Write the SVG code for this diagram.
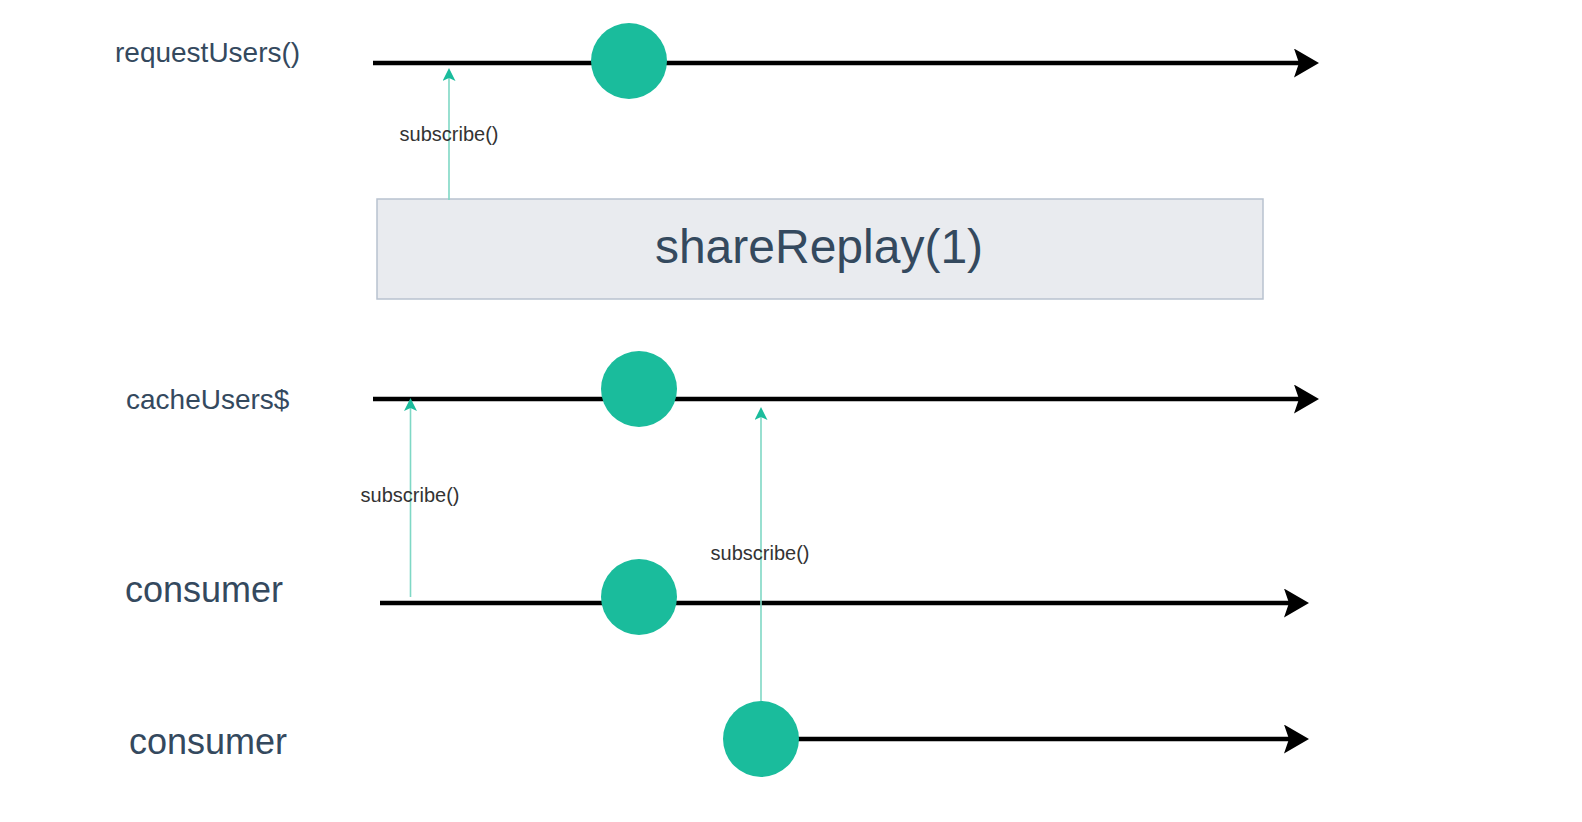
<svg xmlns="http://www.w3.org/2000/svg" width="1582" height="822" viewBox="0 0 1582 822">
  <style>
    .lbl { font-family: "Liberation Sans", Arial, sans-serif; fill: #34495e; }
    .sub { font-family: "Liberation Sans", Arial, sans-serif; font-size: 20px; fill: #333333; text-anchor: middle; }
    .tl { stroke: #000000; stroke-width: 4.5; fill: none; marker-end: url(#blackArrow); }
    .ev { fill: #1abc9c; }
    .conn { stroke: #7fd8c5; stroke-width: 1.6; fill: none; marker-end: url(#tealArrow); }
  </style>
  <defs>
    <marker id="blackArrow" markerUnits="userSpaceOnUse" markerWidth="25" markerHeight="29" viewBox="0 0 25 29" refX="5" refY="14.5" orient="auto">
      <path d="M0,0 L25,14.5 L0,29 L5,14.5 Z" fill="#000000"/>
    </marker>
    <marker id="tealArrow" markerUnits="userSpaceOnUse" markerWidth="13" markerHeight="13" viewBox="0 0 13 13" refX="3" refY="6.5" orient="auto">
      <path d="M0,0 L13,6.5 L0,13 L3,6.5 Z" fill="#1abc9c"/>
    </marker>
  </defs>
  <rect width="1582" height="822" fill="#ffffff"/>

  <g id="timeline-requestUsers">
    <text class="lbl" x="115" y="62" font-size="28">requestUsers()</text>
    <line class="tl" x1="373" y1="63" x2="1299" y2="63"/>
  </g>

  <g id="timeline-cacheUsers">
    <text class="lbl" x="126" y="409" font-size="28">cacheUsers$</text>
    <line class="tl" x1="373" y1="399" x2="1299" y2="399"/>
  </g>

  <g id="timeline-consumer-1">
    <text class="lbl" x="125" y="602" font-size="36">consumer</text>
    <line class="tl" x1="380" y1="603" x2="1289" y2="603"/>
  </g>

  <g id="timeline-consumer-2">
    <text class="lbl" x="129" y="754" font-size="36">consumer</text>
    <line class="tl" x1="761" y1="739" x2="1289" y2="739"/>
  </g>

  <g id="shareReplay-box">
    <rect x="377" y="199" width="886" height="100" fill="#e9ebef" stroke="#b8c2cf" stroke-width="1.5"/>
    <text class="lbl" x="819" y="263" font-size="48" text-anchor="middle">shareReplay(1)</text>
  </g>

  <g id="connectors">
    <line class="conn" x1="449" y1="200" x2="449" y2="78"/>
    <text class="sub" x="449" y="141">subscribe()</text>
    <line class="conn" x1="410.5" y1="597" x2="410.5" y2="408"/>
    <text class="sub" x="410" y="502">subscribe()</text>
    <line class="conn" x1="761" y1="701" x2="761" y2="417"/>
    <text class="sub" x="760" y="560">subscribe()</text>
  </g>

  <g id="event-request">
    <circle class="ev" cx="629" cy="61" r="38"/>
  </g>
  <g id="event-cache">
    <circle class="ev" cx="639" cy="389" r="38"/>
  </g>
  <g id="event-consumer-1">
    <circle class="ev" cx="639" cy="597" r="38"/>
  </g>
  <g id="event-consumer-2">
    <circle class="ev" cx="761" cy="739" r="38"/>
  </g>
</svg>
